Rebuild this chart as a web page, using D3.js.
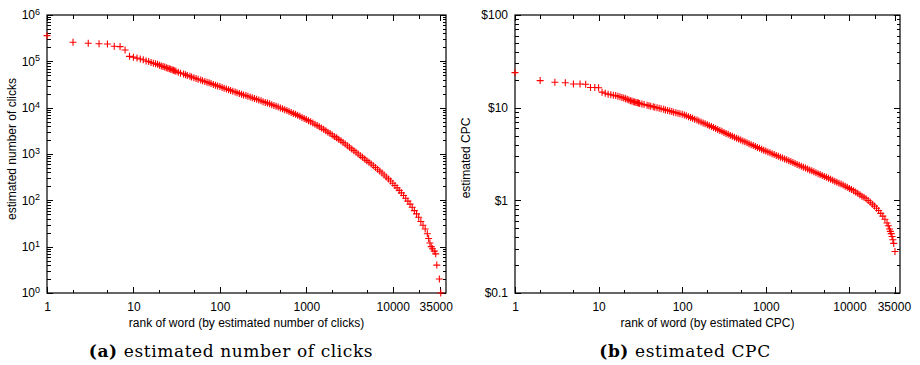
<!DOCTYPE html>
<html><head><meta charset="utf-8">
<script src="https://cdn.jsdelivr.net/npm/d3@7/dist/d3.min.js"></script>
<style>
body{margin:0;background:#fff}
svg text{font-family:"Liberation Sans Narrow","Liberation Sans",Arial,sans-serif;fill:#000}
text.cap{font-family:"DejaVu Serif",serif}
</style>
</head><body>
<svg id="c" width="920" height="365"></svg>
<script>
// ---- data ----
const sharedRanks = [1,2,3,4,5,6,7,8,9,10,11,12,13,14,15,16,17,18,19,20,21,22,23,24,25,26,27,28,29,30,31,
 33,35,38,40,42,45,47,50,53,56,60,63,67,71,75,79,84,89,94,
 100,106,112,119,126,133,141,150,158,168,178,188,200,211,224,237,251,266,282,299,
 316,335,355,376,398,422,447,473,501,531,562,596,631,668,708,750,794,841,891,944,
 1000,1059,1122,1189,1259,1334,1413,1496,1585,1679,1778,1884,1995,2113,2239,2371,2512,2661,2818,2985,
 3162,3350,3548,3758,3981,4217,4467,4732,5012,5309,5623,5957,6310,6683,7079,7499,7943,8414,8913,9441,
 10000,10593,11220,11885,12589,13335,14125,14962,15849,16788,17783,18836,19953,21135,22387,23714,25119];
const clickTailRanks = [26002,26915,27861,28840,30200,31400,32300,34600,35900];
const cpcTailRanks = [26607,28184,29174,30200,30903,31623,32359,33113,33884,35075];

const clickValues = [358000,258000,245000,240000,236000,212000,208000,176000,128000,123000,
 117500,112000,108000,102000,98900,94400,91200,88700,86100,82200,
 79400,77300,75000,72800,70800,69200,67300,65800,64000,62400,61000,
 57800,55600,53500,51300,49500,47900,45900,44200,42700,41200,39600,38000,36700,35500,34300,33100,31800,30500,29500,
 28500,27400,26300,25400,24500,23600,22600,21900,21100,20300,19500,18800,18200,17600,17000,16300,15700,15100,14600,14100,
 13500,13000,12600,12100,11600,11200,10700,10300,9860,9460,9060,8670,8280,7910,7530,7180,6820,6490,6170,5850,
 5550,5250,4950,4670,4400,4130,3870,3630,3400,3180,2960,2770,2580,2400,2230,2070,1920,1770,1640,1510,
 1400,1290,1180,1090,1000,920,847,780,718,661,607,557,511,467,427,388,353,320,290,261,
 234,209,186,164,145,127,111,96,83,71,60,51,43,35,29,24,19,
 15,12,10,9,8,7,4,2,1];

const cpcValues = [23.9,19.6,18.8,18.6,18.0,18.0,17.9,16.5,16.5,16.4,
 14.7,14.3,14.0,13.8,13.6,13.5,13.3,13.1,12.9,12.7,
 12.5,12.3,12.1,11.9,11.8,11.6,11.5,11.4,11.3,11.2,11.1,
 10.94,10.79,10.64,10.52,10.38,10.26,10.12,10.0,9.86,9.73,9.59,9.46,9.33,9.20,9.08,8.95,8.83,8.71,8.59,
 8.47,8.32,8.17,8.00,7.83,7.67,7.50,7.35,7.18,7.01,6.85,6.70,6.55,6.40,6.25,6.11,5.96,5.82,5.68,5.55,
 5.41,5.27,5.15,5.02,4.91,4.80,4.69,4.58,4.48,4.38,4.28,4.18,4.08,3.99,3.90,3.81,3.72,3.64,3.56,3.48,
 3.40,3.33,3.26,3.18,3.12,3.05,2.99,2.92,2.86,2.79,2.74,2.67,2.62,2.56,2.50,2.44,2.39,2.33,2.28,2.23,
 2.18,2.13,2.08,2.03,1.99,1.94,1.90,1.85,1.81,1.77,1.73,1.69,1.65,1.61,1.57,1.53,1.50,1.46,1.42,1.38,
 1.34,1.31,1.27,1.23,1.19,1.15,1.11,1.08,1.04,0.995,0.955,0.910,0.867,0.822,0.776,0.724,0.676,
 0.624,0.569,0.531,0.490,0.462,0.437,0.407,0.376,0.343,0.28];

const clickRanks = sharedRanks.concat(clickTailRanks);
const cpcRanks = sharedRanks.concat(cpcTailRanks);

const rankTicks = [1,10,100,1000,10000,35000];
const rankTickLabels = ["1","10","100","1000","10000","35000"];
const clickTicks = [1,10,100,1000,10000,100000,1000000];
const clickTickExp = ["0","1","2","3","4","5","6"];
const cpcTicks = [0.1,1,10,100];
const cpcTickLabels = ["$0.1","$1","$10","$100"];

const svg = d3.select("#c");

function panel(cfg){
  const g = svg.append("g");
  const x = d3.scaleLog().domain([1, cfg.xMax]).range([cfg.left, cfg.right]);
  const y = d3.scaleLog().domain(cfg.yDomain).range([cfg.bottom, cfg.top]);

  const minorX = [], minorY = [];
  for (let d = 1; d < cfg.xMax; d *= 10) for (const m of [2,5]) if (d*m < cfg.xMax) minorX.push(d*m);
  for (let d = cfg.yDomain[0]; d < cfg.yDomain[1]*0.99; d *= 10) for (let m = 2; m <= 9; m++) minorY.push(d*m);

  const maj = 6, mnr = 3.5;
  function addAxis(axis, tr){
    const a = g.append("g").attr("transform", tr).call(axis);
    a.select(".domain").remove();
    a.selectAll(".tick line").attr("stroke","#000").attr("shape-rendering","crispEdges");
    a.selectAll("text").attr("font-size", 12);
    return a;
  }
  const bx = addAxis(d3.axisBottom(x).tickValues(cfg.xTicks).tickFormat((d,i)=>cfg.xLabels[i]).tickSize(-maj).tickPadding(9), `translate(0,${cfg.bottom})`);
  bx.selectAll("text").attr("dx", (d,i)=> i===cfg.xTicks.length-1 ? cfg.lastDx : 0);
  addAxis(d3.axisBottom(x).tickValues(minorX).tickFormat("").tickSize(-mnr), `translate(0,${cfg.bottom})`);
  addAxis(d3.axisTop(x).tickValues(cfg.xTicks).tickFormat("").tickSize(-maj), `translate(0,${cfg.top})`);
  addAxis(d3.axisTop(x).tickValues(minorX).tickFormat("").tickSize(-mnr), `translate(0,${cfg.top})`);
  const ly = addAxis(d3.axisLeft(y).tickValues(cfg.yTicks).tickFormat((d,i)=>cfg.yLabels ? cfg.yLabels[i] : "").tickSize(-maj).tickPadding(7), `translate(${cfg.left},0)`);
  if (cfg.yExp){
    ly.selectAll("text").each(function(d,i){
      const t = d3.select(this).text(null);
      t.append("tspan").text("10");
      t.append("tspan").attr("dy","-0.5em").attr("font-size",9).text(cfg.yExp[i]);
    });
  }
  addAxis(d3.axisLeft(y).tickValues(minorY).tickFormat("").tickSize(-mnr), `translate(${cfg.left},0)`);
  addAxis(d3.axisRight(y).tickValues(cfg.yTicks).tickFormat("").tickSize(-maj), `translate(${cfg.right},0)`);
  addAxis(d3.axisRight(y).tickValues(minorY).tickFormat("").tickSize(-mnr), `translate(${cfg.right},0)`);

  g.append("rect").attr("x",cfg.left).attr("y",cfg.top).attr("width",cfg.right-cfg.left).attr("height",cfg.bottom-cfg.top)
    .attr("fill","none").attr("stroke","#000").attr("stroke-width",1.2);

  const n = Math.min(cfg.ranks.length, cfg.values.length);
  const pts = d3.range(n).map(i=>[cfg.ranks[i], cfg.values[i]]);
  g.append("g").selectAll("path").data(pts).join("path")
    .attr("transform", d=>`translate(${x(d[0])},${y(d[1])})`)
    .attr("d","M-3.5,0H3.5M0,-3.5V3.5")
    .attr("stroke","#ff0000").attr("stroke-width",1.1).attr("fill","none");

  g.append("text").attr("x",(cfg.left+cfg.right)/2).attr("y",cfg.bottom+34).attr("text-anchor","middle")
    .attr("font-size",12).text(cfg.xTitle);
  g.append("text").attr("transform",`translate(${cfg.yTitleX},${cfg.yTitleY}) rotate(-90)`).attr("text-anchor","middle")
    .attr("font-size",12).text(cfg.yTitle);

  const c = g.append("text").attr("class","cap").attr("x",cfg.capX).attr("y",357).attr("text-anchor","middle")
    .attr("font-size",17).attr("letter-spacing","0.6px");
  c.append("tspan").attr("font-weight","bold").text(cfg.capTag);
  c.append("tspan").text(" " + cfg.capText);
}

panel({left:47,right:446,top:15,bottom:293,xMax:41300,yDomain:[1,1e6],
  xTicks:rankTicks,xLabels:rankTickLabels,lastDx:-4,yTicks:clickTicks,yExp:clickTickExp,
  ranks:clickRanks,values:clickValues,
  xTitle:"rank of word (by estimated number of clicks)",yTitle:"estimated number of clicks",yTitleX:16,yTitleY:149,
  capX:231,capTag:"(a)",capText:"estimated number of clicks"});
panel({left:515,right:900,top:15,bottom:293,xMax:40300,yDomain:[0.1,100],
  xTicks:rankTicks,xLabels:rankTickLabels,lastDx:-1,yTicks:cpcTicks,yLabels:cpcTickLabels,
  ranks:cpcRanks,values:cpcValues,
  xTitle:"rank of word (by estimated CPC)",yTitle:"estimated CPC",yTitleX:470,yTitleY:158,
  capX:685,capTag:"(b)",capText:"estimated CPC"});
</script>
</body></html>
